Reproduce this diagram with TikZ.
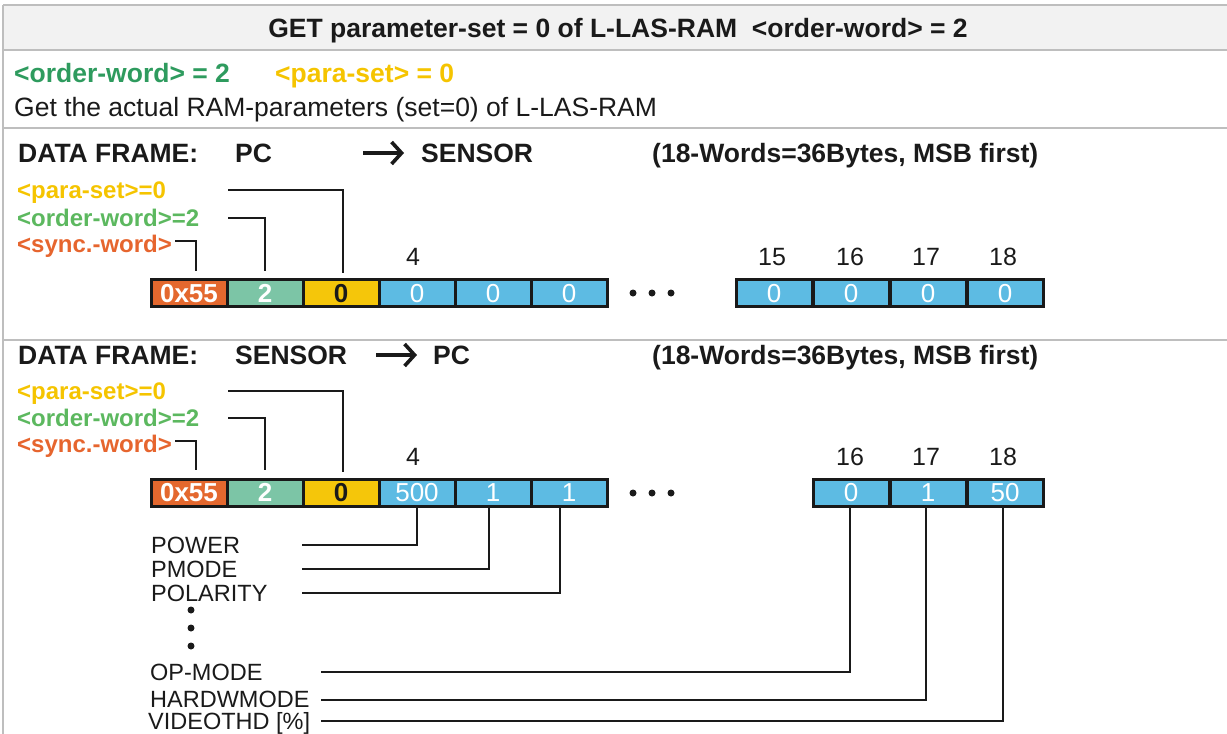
\documentclass[tikz,border=0pt]{standalone}
\usepackage{fontspec}
\setmainfont{Liberation Sans}
\usetikzlibrary{arrows.meta}
\definecolor{gridc}{HTML}{BEBEBE}
\definecolor{hdrfill}{HTML}{F2F2F2}
\definecolor{txtc}{HTML}{1A1A1A}
\definecolor{owdark}{HTML}{2E9B5E}
\definecolor{psy}{HTML}{F5C400}
\definecolor{lgreen}{HTML}{5CB85F}
\definecolor{lorange}{HTML}{E6652E}
\definecolor{borange}{HTML}{E4682E}
\definecolor{bgreen}{HTML}{7CC5A6}
\definecolor{byellow}{HTML}{F5C60A}
\definecolor{bblue}{HTML}{5DBBE3}
\tikzset{
  grid/.style={draw=gridc, line width=2.2pt},
  title/.style={inner sep=0, text=txtc, text height=19pt, text depth=0pt, font=\fontsize{26.5}{30}\selectfont\bfseries},
  reg/.style={inner sep=0, text=txtc, text height=19pt, text depth=0pt, font=\fontsize{26.5}{30}\selectfont},
  lbl/.style={inner sep=0, anchor=west, text height=17pt, text depth=0pt, font=\fontsize{24}{28}\selectfont\bfseries},
  num/.style={inner sep=0, text=txtc, text height=18pt, text depth=0pt, font=\fontsize{25}{28}\selectfont},
  bot/.style={inner sep=0, anchor=west, text=txtc, text height=17pt, text depth=0pt, font=\fontsize{23.5}{26}\selectfont},
  cell/.style={draw=black!90, line width=3pt, minimum width=76pt, minimum height=27pt, inner sep=0, outer sep=0, text height=18.5pt, text depth=0pt},
  bluecell/.style={cell, fill=bblue, text=white, font=\fontsize{26}{28}\selectfont},
  conn/.style={draw=txtc, line width=1.6pt},
  bigarrow/.style={draw=txtc, line width=3.6pt, -{Straight Barb[length=10pt,width=22pt]}},
  dot/.style={fill=txtc}
}
\begin{document}
\begin{tikzpicture}[x=1pt,y=-1pt]
\useasboundingbox (0,0) rectangle (1227,734);
% table
\fill[hdrfill] (3,5) rectangle (1227,50);
\draw[grid] (3,5) -- (1227,5);
\draw[grid] (3,50) -- (1227,50);
\draw[grid] (3,128) -- (1227,128);
\draw[grid] (3,340) -- (1227,340);
\draw[grid] (3,5) -- (3,734);
% header
\node[title] (hdr) at (618,28) {GET parameter-set = 0 of L-LAS-RAM\ \ <order-word> = 2};
\node[title, anchor=west, text=owdark] (ow) at (14,73) {<order-word> = 2};
\node[title, anchor=west, text=psy] (ps) at (275,73) {<para-set> = 0};
\node[reg, anchor=west] (desc) at (14,107) {Get the actual RAM-parameters (set=0) of L-LAS-RAM};

% ===== frame 1
\node[title, anchor=west] (dfa) at (18,153) {DATA FRAME:};
\node[title, anchor=west] (pca) at (235,153) {PC};
\coordinate (arSa) at (363,153);
\coordinate (arEa) at (404,153);
\draw[bigarrow] (arSa) -- (arEa);
\node[title, anchor=west] (sena) at (421,153) {SENSOR};
\node[title, anchor=west] (sza) at (652,153) {(18-Words=36Bytes, MSB first)};
\node[lbl, text=psy] (lpsa) at (17,190) {<para-set>=0};
\node[lbl, text=lgreen] (lowa) at (17,218) {<order-word>=2};
\node[lbl, text=lorange] (lsya) at (17,244) {<sync.-word>};
\node[num] (na4) at (413,256) {4};
\node[num] (na15) at (772,256) {15};
\node[num] (na16) at (850,256) {16};
\node[num] (na17) at (926,256) {17};
\node[num] (na18) at (1003,256) {18};
\node[cell, fill=borange, text=white, font=\fontsize{26}{28}\selectfont\bfseries] (a1) at (189,293) {0x55};
\node[cell, fill=bgreen, text=white, font=\fontsize{26}{28}\selectfont\bfseries] (a2) at (265,293) {2};
\node[cell, fill=byellow, text=txtc, font=\fontsize{26}{28}\selectfont\bfseries] (a3) at (341,293) {0};
\node[bluecell] (a4) at (417,293) {0};
\node[bluecell] (a5) at (493,293) {0};
\node[bluecell] (a6) at (569,293) {0};
\node[bluecell] (a15) at (774,293) {0};
\node[bluecell] (a16) at (851,293) {0};
\node[bluecell] (a17) at (928,293) {0};
\node[bluecell] (a18) at (1005,293) {0};
\fill[dot] (633,293) circle (3.5) (652,293) circle (3.5) (671,293) circle (3.5);
\coordinate (cpsa) at (228,190);
\coordinate (cowa) at (228,218);
\coordinate (csya) at (175,241);
\draw[conn, shorten >=7pt] (cpsa) -| ([xshift=2pt]a3.north);
\draw[conn, shorten >=9pt] (cowa) -| (a2.north);
\draw[conn, shorten >=9pt] (csya) -| ([xshift=7pt]a1.north);

% ===== frame 2
\node[title, anchor=west] (dfb) at (18,355) {DATA FRAME:};
\node[title, anchor=west] (senb) at (235,355) {SENSOR};
\coordinate (arSb) at (376,355);
\coordinate (arEb) at (417,355);
\draw[bigarrow] (arSb) -- (arEb);
\node[title, anchor=west] (pcb) at (433,355) {PC};
\node[title, anchor=west] (szb) at (652,355) {(18-Words=36Bytes, MSB first)};
\node[lbl, text=psy] (lpsb) at (17,391) {<para-set>=0};
\node[lbl, text=lgreen] (lowb) at (17,418) {<order-word>=2};
\node[lbl, text=lorange] (lsyb) at (17,444) {<sync.-word>};
\node[num] (nb4) at (413,456) {4};
\node[num] (nb16) at (850,456) {16};
\node[num] (nb17) at (926,456) {17};
\node[num] (nb18) at (1003,456) {18};
\node[cell, fill=borange, text=white, font=\fontsize{26}{28}\selectfont\bfseries] (b1) at (189,492.5) {0x55};
\node[cell, fill=bgreen, text=white, font=\fontsize{26}{28}\selectfont\bfseries] (b2) at (265,492.5) {2};
\node[cell, fill=byellow, text=txtc, font=\fontsize{26}{28}\selectfont\bfseries] (b3) at (341,492.5) {0};
\node[bluecell] (b4) at (417,492.5) {500};
\node[bluecell] (b5) at (493,492.5) {1};
\node[bluecell] (b6) at (569,492.5) {1};
\node[bluecell] (b16) at (851,492.5) {0};
\node[bluecell] (b17) at (928,492.5) {1};
\node[bluecell] (b18) at (1005,492.5) {50};
\fill[dot] (633,493) circle (3.5) (652,493) circle (3.5) (671,493) circle (3.5);
\coordinate (cpsb) at (228,391);
\coordinate (cowb) at (228,418);
\coordinate (csyb) at (175,441);
\draw[conn, shorten >=7pt] (cpsb) -| ([xshift=2pt]b3.north);
\draw[conn, shorten >=9pt] (cowb) -| (b2.north);
\draw[conn, shorten >=9pt] (csyb) -| ([xshift=7pt]b1.north);

% bottom labels
\node[bot] (lpow) at (151,545) {POWER};
\node[bot] (lpmo) at (151,569) {PMODE};
\node[bot] (lpol) at (151,593) {POLARITY};
\fill[dot] (191,610) circle (3.5) (191,628) circle (3.5) (191,646) circle (3.5);
\node[bot] (lop) at (150,672) {OP-MODE};
\node[bot] (lhw) at (150,699) {HARDWMODE};
\node[bot] (lvt) at (148,721) {VIDEOTHD [\%]};
\coordinate (cpow) at (302,545);
\coordinate (cpmo) at (302,569);
\coordinate (cpol) at (302,593);
\coordinate (cop) at (321,672);
\coordinate (chw) at (321,700);
\coordinate (cvt) at (321,721);
\draw[conn] (cpow) -| (b4.south);
\draw[conn] (cpmo) -| ([xshift=-4pt]b5.south);
\draw[conn] (cpol) -| ([xshift=-9pt]b6.south);
\draw[conn] (cop) -| ([xshift=-1pt]b16.south);
\draw[conn] (chw) -| ([xshift=-2pt]b17.south);
\draw[conn] (cvt) -| ([xshift=-2pt]b18.south);
\end{tikzpicture}
\end{document}
